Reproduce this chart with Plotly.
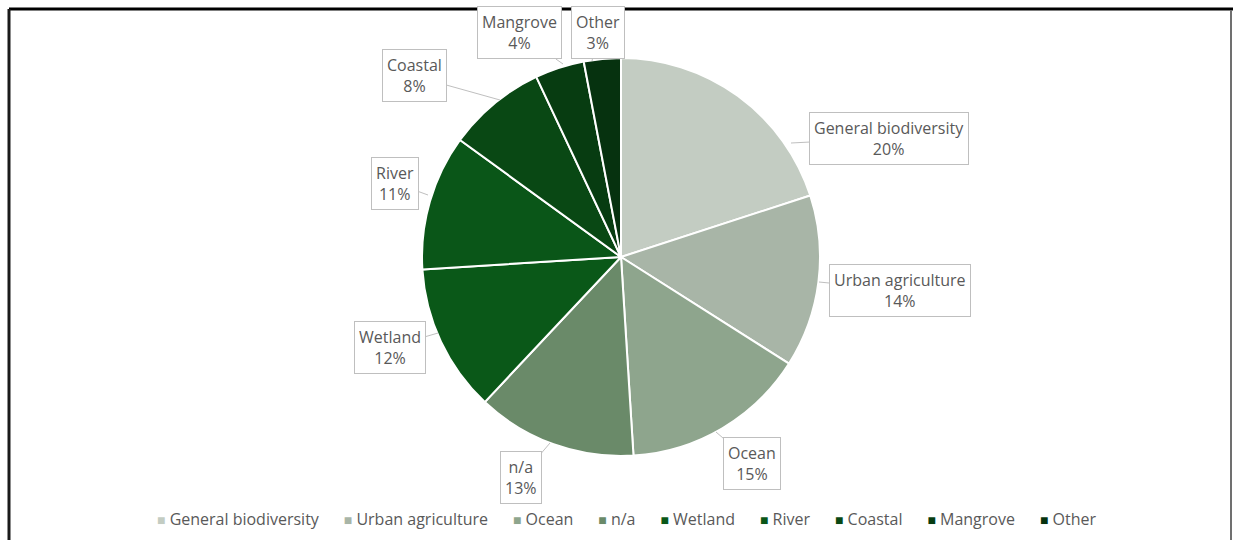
import plotly.graph_objects as go

# Share of projects by ecosystem type
categories = ["General biodiversity", "Urban agriculture", "Ocean", "n/a", "Wetland",
              "River", "Coastal", "Mangrove", "Other"]
shares = [20, 14, 15, 13, 12, 11, 8, 4, 3]
colors = ["#c3ccc2", "#a8b5a7", "#8ea58d", "#6a8a69", "#0a5818",
          "#0a5618", "#094814", "#073c11", "#06320f"]

W, H = 1233, 540
TEXT = "#595959"
FONT = "Open Sans"

# Callout placement in pixels: (box centre x, box centre y, pointer tip x, pointer tip y)
callouts = {
    "General biodiversity": (889, 138, 791, 143),
    "Urban agriculture": (900, 290, 819, 282),
    "Ocean": (752, 463, 716, 432),
    "n/a": (521, 477, 550, 443),
    "Wetland": (390, 347, 438, 333),
    "River": (395, 183, 428, 195),
    "Coastal": (414, 76, 500, 100),
    "Mangrove": (519, 33, 563, 64),
    "Other": (598, 33, 592, 61),
}

fig = go.Figure(go.Pie(
    labels=categories,
    values=shares,
    sort=False,
    direction="clockwise",
    rotation=0,
    marker=dict(colors=colors, line=dict(color="white", width=2)),
    textinfo="none",
    showlegend=False,
    domain=dict(x=[621 / W - 199 / W, 621 / W + 199 / W],
                y=[1 - (257 + 199) / H, 1 - (257 - 199) / H]),
))

total = sum(shares)
annotations = []
for name, val in zip(categories, shares):
    bx, by, tx, ty = callouts[name]
    annotations.append(dict(
        x=tx / W, y=1 - ty / H, xref="paper", yref="paper",
        ax=bx - tx, ay=by - ty,
        text=f"{name}<br>{round(val / total * 100)}%",
        showarrow=True, arrowhead=0, arrowwidth=1, arrowcolor="#bfbfbf",
        standoff=0, startstandoff=0,
        bordercolor="#bfbfbf", borderwidth=1, borderpad=4, bgcolor="white",
        align="center", font=dict(family=FONT, size=16, color=TEXT),
    ))

# Key row beneath the pie: small colour square followed by the category name
gap = "&nbsp;" * 6
key_items = [
    f'<span style="color:{c};font-size:14px">■</span> {name}'
    for name, c in zip(categories, colors)
]
annotations.append(dict(
    x=626 / W, y=1 - 519 / H, xref="paper", yref="paper",
    xanchor="center", yanchor="middle", showarrow=False,
    text=gap.join(key_items),
    font=dict(family=FONT, size=16, color=TEXT),
))

# Outer frame lines
shapes = [
    dict(type="line", xref="paper", yref="paper", x0=9 / W, x1=1, y0=1 - 9 / H, y1=1 - 9 / H,
         line=dict(color="black", width=3)),
    dict(type="line", xref="paper", yref="paper", x0=9 / W, x1=9 / W, y0=0, y1=1 - 9 / H,
         line=dict(color="#1a1a1a", width=3)),
    dict(type="line", xref="paper", yref="paper", x0=1231 / W, x1=1231 / W, y0=0, y1=1 - 10 / H,
         line=dict(color="#707070", width=2)),
]

fig.update_layout(
    width=W, height=H,
    margin=dict(l=0, r=0, t=0, b=0),
    paper_bgcolor="white",
    plot_bgcolor="white",
    showlegend=False,
    annotations=annotations,
    shapes=shapes,
)

fig.write_html("out.html")
